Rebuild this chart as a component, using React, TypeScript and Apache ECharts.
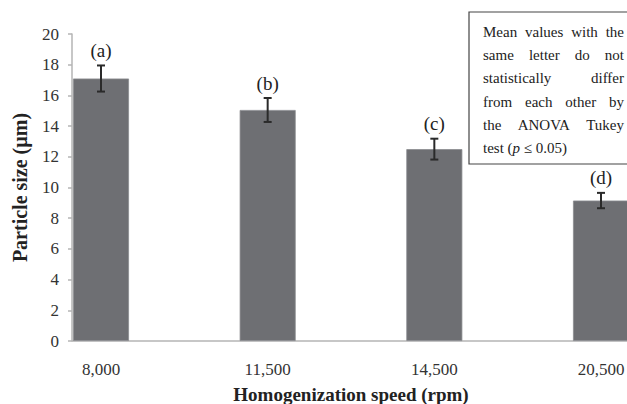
import React, { useEffect, useRef } from "react";
import * as echarts from "echarts";

const categories = ["8,000", "11,500", "14,500", "20,500"];
const means = [17.1, 15.05, 12.5, 9.15];
const errors = [0.85, 0.78, 0.68, 0.5];
const letters = ["(a)", "(b)", "(c)", "(d)"];
const yTicks = { min: 0, max: 20, interval: 2 };
const noteLines = [
  "Mean values with the",
  "same letter do not",
  "statistically differ",
  "from each other by",
  "the ANOVA Tukey",
];
const noteLast = "test ({i|p} ≤ 0.05)";

const SERIF = "Liberation Serif";

function measure(text: string, font: string): number {
  const c = document.createElement("canvas").getContext("2d");
  if (!c) return text.length * 7;
  c.font = font;
  return c.measureText(text).width;
}

export default function App() {
  const ref = useRef<HTMLDivElement>(null);
  useEffect(() => {
    if (!ref.current) return;
    const chart = echarts.init(ref.current, undefined, { renderer: "svg" });

    const noteFontSize = 15;
    const noteFont = `${noteFontSize}px "Liberation Serif"`;
    const boxLeft = 469;
    const textLeft = 483;
    const textRight = 624;
    const lineY0 = 32;
    const lineH = 23.2;
    const noteTexts: any[] = [];
    noteLines.forEach((line, li) => {
      const words = line.split(" ");
      const widths = words.map((w) => measure(w, noteFont));
      const total = widths.reduce((a, b) => a + b, 0);
      const gap = words.length > 1 ? (textRight - textLeft - total) / (words.length - 1) : 0;
      let x = textLeft;
      words.forEach((w, wi) => {
        noteTexts.push({
          type: "text",
          x,
          y: lineY0 + li * lineH,
          style: {
            text: w,
            fontFamily: SERIF,
            fontSize: noteFontSize,
            fill: "#222",
            verticalAlign: "middle",
            align: "left",
          },
        });
        x += widths[wi] + gap;
      });
    });
    noteTexts.push({
      type: "text",
      x: textLeft,
      y: lineY0 + noteLines.length * lineH,
      style: {
        text: noteLast,
        fontFamily: SERIF,
        fontSize: noteFontSize,
        fill: "#222",
        verticalAlign: "middle",
        align: "left",
        rich: {
          i: { fontStyle: "italic", fontFamily: SERIF, fontSize: noteFontSize, fill: "#222" },
        },
      },
    });

    const gridTop = 34;
    const gridBottom = 63;
    const axisY = 404 - gridBottom;

    chart.setOption({
      animation: false,
      backgroundColor: "#fff",
      grid: {
        left: 101,
        right: 26,
        top: gridTop,
        bottom: gridBottom,
        containLabel: false,
        outerBoundsMode: "none",
      },
      xAxis: {
        type: "category",
        data: categories,
        boundaryGap: false,
        axisLine: { show: false },
        axisTick: { show: false },
        splitLine: { show: false },
        axisLabel: {
          margin: 20,
          fontFamily: SERIF,
          fontSize: 17,
          color: "#333",
        },
        name: "Homogenization speed (rpm)",
        nameLocation: "middle",
        nameGap: 44,
        nameTextStyle: { fontFamily: SERIF, fontSize: 19, fontWeight: "bold", color: "#222" },
      },
      yAxis: {
        type: "value",
        min: yTicks.min,
        max: yTicks.max,
        interval: yTicks.interval,
        offset: 29,
        axisLine: { show: true, lineStyle: { color: "#b5b5b5", width: 1.5 } },
        axisTick: { show: true, length: 4, lineStyle: { color: "#b5b5b5", width: 1.5 } },
        splitLine: { show: false },
        axisLabel: { margin: 13, fontFamily: SERIF, fontSize: 17, color: "#333" },
        name: "Particle size (µm)",
        nameLocation: "middle",
        nameGap: 42,
        nameTextStyle: { fontFamily: SERIF, fontSize: 20, fontWeight: "bold", color: "#222" },
      },
      series: [
        {
          type: "bar",
          data: means,
          barWidth: 56,
          clip: false,
          itemStyle: { color: "#6e6f73", borderColor: "#8a8b8f", borderWidth: 0.8 },
          z: 2,
        },
        {
          type: "custom",
          clip: false,
          z: 5,
          data: means.map((m, i) => [i, m, errors[i]]),
          renderItem: (params: any, api: any) => {
            const i = api.value(0);
            const m = api.value(1);
            const e = api.value(2);
            const top = api.coord([i, m + e]);
            const bot = api.coord([i, m - e]);
            const cap = 4;
            const ls = { stroke: "#2a2a2a", lineWidth: 2 };
            return {
              type: "group",
              children: [
                { type: "line", shape: { x1: top[0], y1: top[1], x2: bot[0], y2: bot[1] }, style: ls },
                { type: "line", shape: { x1: top[0] - cap, y1: top[1], x2: top[0] + cap, y2: top[1] }, style: ls },
                { type: "line", shape: { x1: bot[0] - cap, y1: bot[1], x2: bot[0] + cap, y2: bot[1] }, style: ls },
                {
                  type: "text",
                  x: top[0],
                  y: top[1] - 15,
                  style: {
                    text: letters[params.dataIndex],
                    fontFamily: SERIF,
                    fontSize: 19,
                    fill: "#222",
                    align: "center",
                    verticalAlign: "middle",
                  },
                },
              ],
            };
          },
        },
      ],
      graphic: [
        {
          type: "line",
          shape: { x1: 72, y1: axisY, x2: 627, y2: axisY },
          style: { stroke: "#b5b5b5", lineWidth: 1.5 },
          z: 1,
        },
        {
          type: "rect",
          shape: { x: boxLeft, y: 12, width: 170, height: 152 },
          style: { fill: "#fff", stroke: "#444", lineWidth: 1.2 },
          z: 10,
        },
        ...noteTexts.map((t) => ({ ...t, z: 11 })),
      ],
    });
    return () => chart.dispose();
  }, []);
  return (
    <div
      ref={ref}
      style={{ position: "fixed", left: 0, top: 0, width: 627, height: 404 }}
    />
  );
}
